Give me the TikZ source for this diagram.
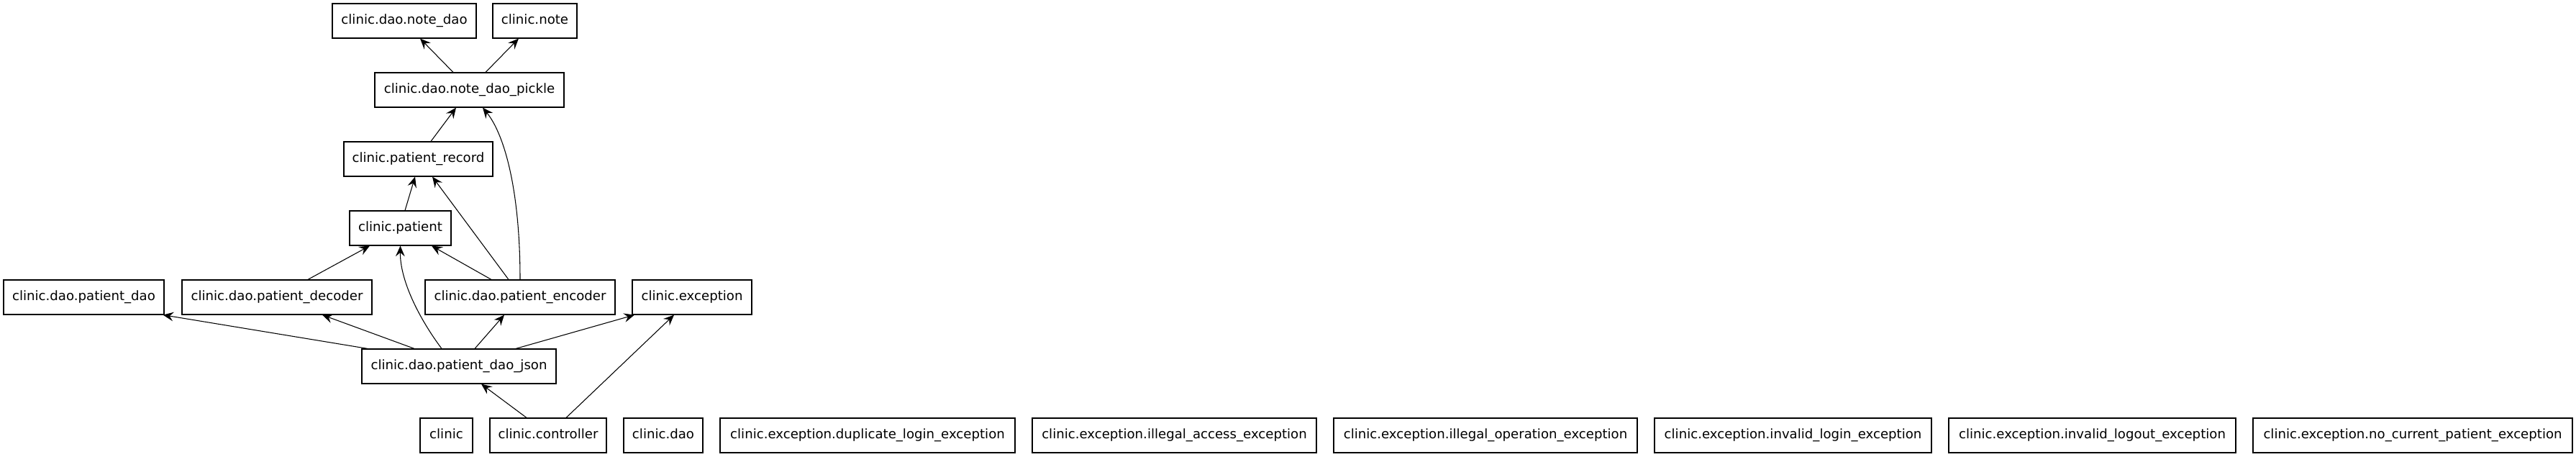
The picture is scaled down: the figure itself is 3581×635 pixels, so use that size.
\documentclass[tikz,border=0pt]{standalone}
\usepackage{fontspec}
\setmainfont{DejaVu Sans}
\usetikzlibrary{arrows.meta,calc}
\tikzset{
  pkg/.style={draw, line width=0.85pt, minimum height=36pt, inner sep=0pt,
    text height=10pt, text depth=3pt,
    font=\fontsize{13.6pt}{16pt}\selectfont},
  bw/.style={minimum width=#1*0.75pt},
  dep/.style={line width=0.8pt, -{Stealth[length=11pt,width=9.5pt,inset=4pt]}},
}
\begin{document}
\begin{tikzpicture}[x=0.75pt,y=-0.75pt]
\useasboundingbox (0,0) rectangle (3581,635);
% row 0
\node[pkg,bw=200] (notedao) at (562,29) {clinic.dao.note\_dao};
\node[pkg,bw=117] (note) at (743.5,29) {clinic.note};
% row 1
\node[pkg,bw=263] (pickle) at (652.5,125) {clinic.dao.note\_dao\_pickle};
% row 2
\node[pkg,bw=207] (record) at (581.5,221) {clinic.patient\_record};
% row 3
\node[pkg,bw=141] (patient) at (556.5,317) {clinic.patient};
% row 4
\node[pkg,bw=223] (pdao) at (116.5,413) {clinic.dao.patient\_dao};
\node[pkg,bw=264] (decoder) at (385,413) {clinic.dao.patient\_decoder};
\node[pkg,bw=264] (encoder) at (723,413) {clinic.dao.patient\_encoder};
\node[pkg,bw=166] (exception) at (962,413) {clinic.exception};
% row 5
\node[pkg,bw=270] (json) at (638,509) {clinic.dao.patient\_dao\_json};
% row 6
\node[pkg,bw=73] (clinic) at (620.5,605) {clinic};
\node[pkg,bw=162] (controller) at (762,605) {clinic.controller};
\node[pkg,bw=110] (dao) at (922,605) {clinic.dao};
\node[pkg,bw=410] (dup) at (1206,605) {clinic.exception.duplicate\_login\_exception};
\node[pkg,bw=395] (access) at (1632.5,605) {clinic.exception.illegal\_access\_exception};
\node[pkg,bw=422] (operation) at (2065,605) {clinic.exception.illegal\_operation\_exception};
\node[pkg,bw=385] (login) at (2492.5,605) {clinic.exception.invalid\_login\_exception};
\node[pkg,bw=399] (logout) at (2908.5,605) {clinic.exception.invalid\_logout\_exception};
\node[pkg,bw=444] (nocurrent) at (3354,605) {clinic.exception.no\_current\_patient\_exception};
% edges
\draw[dep] ($(pickle.north)+(-22.5,0)$) -- ($(notedao.south)+(22,0)$);
\draw[dep] ($(pickle.north)+(22.5,0)$) -- ($(note.south)+(-22.5,0)$);
\draw[dep] ($(record.north)+(17.5,0)$) -- ($(pickle.south)+(-18.5,0)$);
\draw[dep] (encoder.north) .. controls (723,260) and (700,185) .. ($(pickle.south)+(18.5,0)$);
\draw[dep] ($(patient.north)+(6.5,0)$) -- ($(record.south)+(-4.5,0)$);
\draw[dep] ($(encoder.north)+(-16,0)$) -- ($(record.south)+(19.5,0)$);
\draw[dep] ($(decoder.north)+(43,0)$) -- ($(patient.south)+(-42.5,0)$);
\draw[dep] ($(json.north)+(-24,0)$) .. controls (583,443) and (556,390) .. (patient.south);
\draw[dep] ($(encoder.north)+(-40,0)$) -- ($(patient.south)+(43.5,0)$);
\draw[dep] ($(json.north)+(-127,0)$) -- ($(pdao.south)+(110,0)$);
\draw[dep] ($(json.north)+(-62,0)$) -- ($(decoder.south)+(63,0)$);
\draw[dep] ($(json.north)+(22,0)$) -- ($(encoder.south)+(-22,0)$);
\draw[dep] ($(json.north)+(79,0)$) -- ($(exception.south)+(-80,0)$);
\draw[dep] ($(controller.north)+(-30,0)$) -- ($(json.south)+(31,0)$);
\draw[dep] ($(controller.north)+(25,0)$) -- ($(exception.south)+(-25,0)$);
\end{tikzpicture}
\end{document}
